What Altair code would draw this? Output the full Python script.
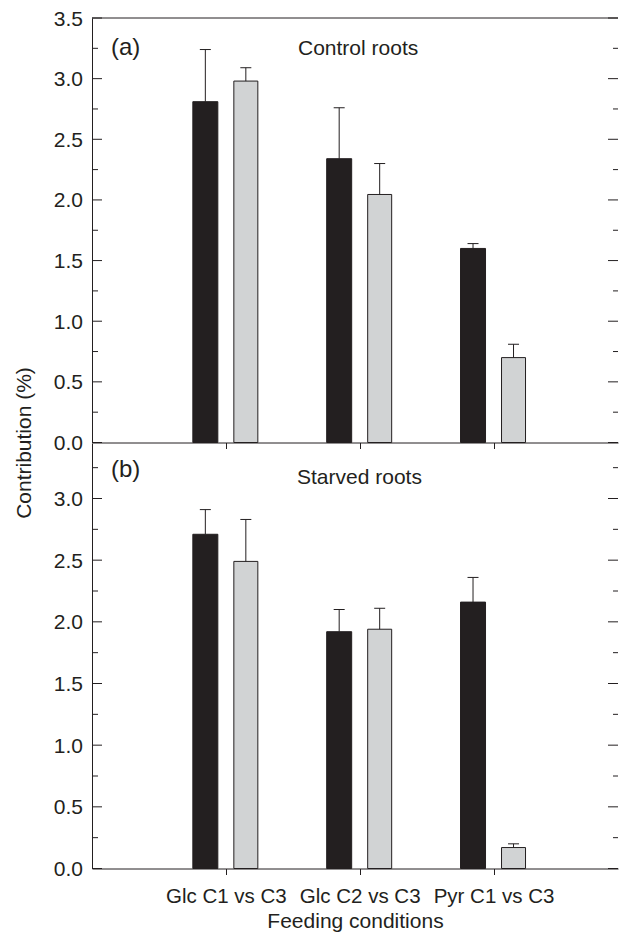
import json
import altair as alt
import pandas as pd

# ---------------- data ----------------
categories = ["Glc C1 vs C3", "Glc C2 vs C3", "Pyr C1 vs C3"]
category_pos = [1, 2, 3]
panel_letters = ["(a)", "(b)"]
panel_titles = ["Control roots", "Starved roots"]

# (a) Control roots: bar value and top of error bar
control_dark = [2.81, 2.34, 1.60]
control_dark_hi = [3.24, 2.76, 1.64]
control_light = [2.98, 2.045, 0.70]
control_light_hi = [3.09, 2.30, 0.81]

# (b) Starved roots
starved_dark = [2.71, 1.92, 2.16]
starved_dark_hi = [2.91, 2.10, 2.36]
starved_light = [2.49, 1.94, 0.17]
starved_light_hi = [2.83, 2.11, 0.20]

# axis ticks
a_domain = [0, 3.5]
a_major = [0.0, 0.5, 1.0, 1.5, 2.0, 2.5, 3.0, 3.5]
a_minor = [0.25, 0.75, 1.25, 1.75, 2.25, 2.75, 3.25]
b_domain = [0, 3.45]
b_major = [0.0, 0.5, 1.0, 1.5, 2.0, 2.5, 3.0]
b_minor = [0.25, 0.75, 1.25, 1.75, 2.25, 2.75, 3.25]
x_domain = [0, 3.93]

# ---------------- style ----------------
DARK = "#231f20"
LIGHT = "#d1d3d4"
FONT = "Liberation Sans"
W = 526
H_A = 424.5
H_B = 425.5


def panel(dark, dark_hi, light, light_hi, ydom, major, minor, letter, title,
          bottom, letter_y, title_y, title_x, ytitle, h):
    df = pd.DataFrame({
        "pos": category_pos, "cat": categories,
        "dark": dark, "dark_hi": dark_hi,
        "light": light, "light_hi": light_hi,
    })
    xs = alt.Scale(domain=x_domain, nice=False, zero=False, padding=0)
    ys = alt.Scale(domain=ydom, nice=False, zero=True, padding=0)
    if bottom:
        expr = json.dumps(categories) + "[datum.value - 1]"
        xaxis = alt.Axis(values=category_pos, labelExpr=expr, ticks=True,
                         tickSize=6, domain=True, grid=False,
                         labelFontSize=20.5, labelPadding=11.5,
                         title="Feeding conditions", titlePadding=4)
    else:
        xaxis = alt.Axis(values=category_pos, labels=False, ticks=True,
                         tickSize=6, domain=True, grid=False, title=None)
    if ytitle:
        yaxis = alt.Axis(values=major, ticks=False, tickSize=0, domain=True,
                         grid=False, labelPadding=9.5, labelOffset=1,
                         format=".1f", title=ytitle, titleX=-58, titleY=h,
                         titleAngle=270, titleAlign="center",
                         titleBaseline="bottom")
    else:
        yaxis = alt.Axis(values=major, ticks=False, tickSize=0, domain=True,
                         grid=False, labelPadding=9.5, labelOffset=1,
                         format=".1f", title=None)

    X = alt.X("pos:Q", scale=xs, axis=xaxis)
    base = alt.Chart(df)

    dark_bar = base.mark_bar(size=25, xOffset=-20.5, color=DARK, stroke=DARK,
                             strokeWidth=1, orient="vertical").encode(
        x=X, y=alt.Y("dark:Q", scale=ys, axis=yaxis))
    light_bar = base.mark_bar(size=24, xOffset=20, color=LIGHT, stroke=DARK,
                              strokeWidth=1, orient="vertical").encode(
        x=X, y=alt.Y("light:Q", scale=ys, axis=yaxis))
    dark_err = base.mark_rule(color=DARK, strokeWidth=1, xOffset=-20.5).encode(
        x=X, y=alt.Y("dark:Q", scale=ys, axis=yaxis), y2="dark_hi:Q")
    light_err = base.mark_rule(color=DARK, strokeWidth=1, xOffset=20).encode(
        x=X, y=alt.Y("light:Q", scale=ys, axis=yaxis), y2="light_hi:Q")
    dark_cap = base.mark_rule(color=DARK, strokeWidth=1, xOffset=-26,
                              x2Offset=-15).encode(
        x=X, x2="pos:Q", y=alt.Y("dark_hi:Q", scale=ys, axis=yaxis))
    light_cap = base.mark_rule(color=DARK, strokeWidth=1, xOffset=14.5,
                               x2Offset=25.5).encode(
        x=X, x2="pos:Q", y=alt.Y("light_hi:Q", scale=ys, axis=yaxis))

    maj = alt.Chart(pd.DataFrame({"v": major}))
    mnr = alt.Chart(pd.DataFrame({"v": minor}))
    Yt = alt.Y("v:Q", scale=ys, axis=yaxis)
    extras = [
        maj.mark_rule(color=DARK).encode(y=Yt, x=alt.value(0), x2=alt.value(10)),
        mnr.mark_rule(color=DARK).encode(y=Yt, x=alt.value(0), x2=alt.value(6)),
        maj.mark_rule(color=DARK).encode(y=Yt, x=alt.value(W - 10), x2=alt.value(W)),
        mnr.mark_rule(color=DARK).encode(y=Yt, x=alt.value(W - 5), x2=alt.value(W)),
    ]
    if not bottom:
        top = alt.Chart(pd.DataFrame({"v": [ydom[1]]}))
        extras.append(top.mark_rule(color=DARK).encode(
            y=Yt, x=alt.value(0), x2=alt.value(W)))

    letter_txt = alt.Chart(pd.DataFrame({"t": [letter]})).mark_text(
        align="left", baseline="alphabetic", fontSize=24, font=FONT, color=DARK
    ).encode(text="t:N", x=alt.value(19), y=alt.value(letter_y))
    title_txt = alt.Chart(pd.DataFrame({"t": [title]})).mark_text(
        align="left", baseline="alphabetic", fontSize=21, font=FONT, color=DARK
    ).encode(text="t:N", x=alt.value(title_x), y=alt.value(title_y))

    return alt.layer(dark_bar, light_bar, dark_err, light_err, dark_cap,
                     light_cap, *extras, letter_txt, title_txt).properties(
        width=W, height=h)


pa = panel(control_dark, control_dark_hi, control_light, control_light_hi,
           a_domain, a_major, a_minor, panel_letters[0], panel_titles[0],
           False, 37, 37, 206, "Contribution (%)", H_A)
pb = panel(starved_dark, starved_dark_hi, starved_light, starved_light_hi,
           b_domain, b_major, b_minor, panel_letters[1], panel_titles[1],
           True, 34, 40.5, 205, None, H_B)

chart = alt.vconcat(pa, pb, spacing=0, bounds="flush").properties(
    padding={"left": 5, "top": 0, "right": 0, "bottom": 0}
).configure_view(strokeWidth=0).configure_axis(
    labelFont=FONT, labelFontSize=21, labelColor=DARK,
    titleFont=FONT, titleFontSize=21, titleColor=DARK, titleFontWeight="normal",
    domainColor=DARK, domainWidth=1, tickColor=DARK, tickWidth=1,
)

chart.save("out.html", embed_options={"renderer": "svg", "actions": False})
